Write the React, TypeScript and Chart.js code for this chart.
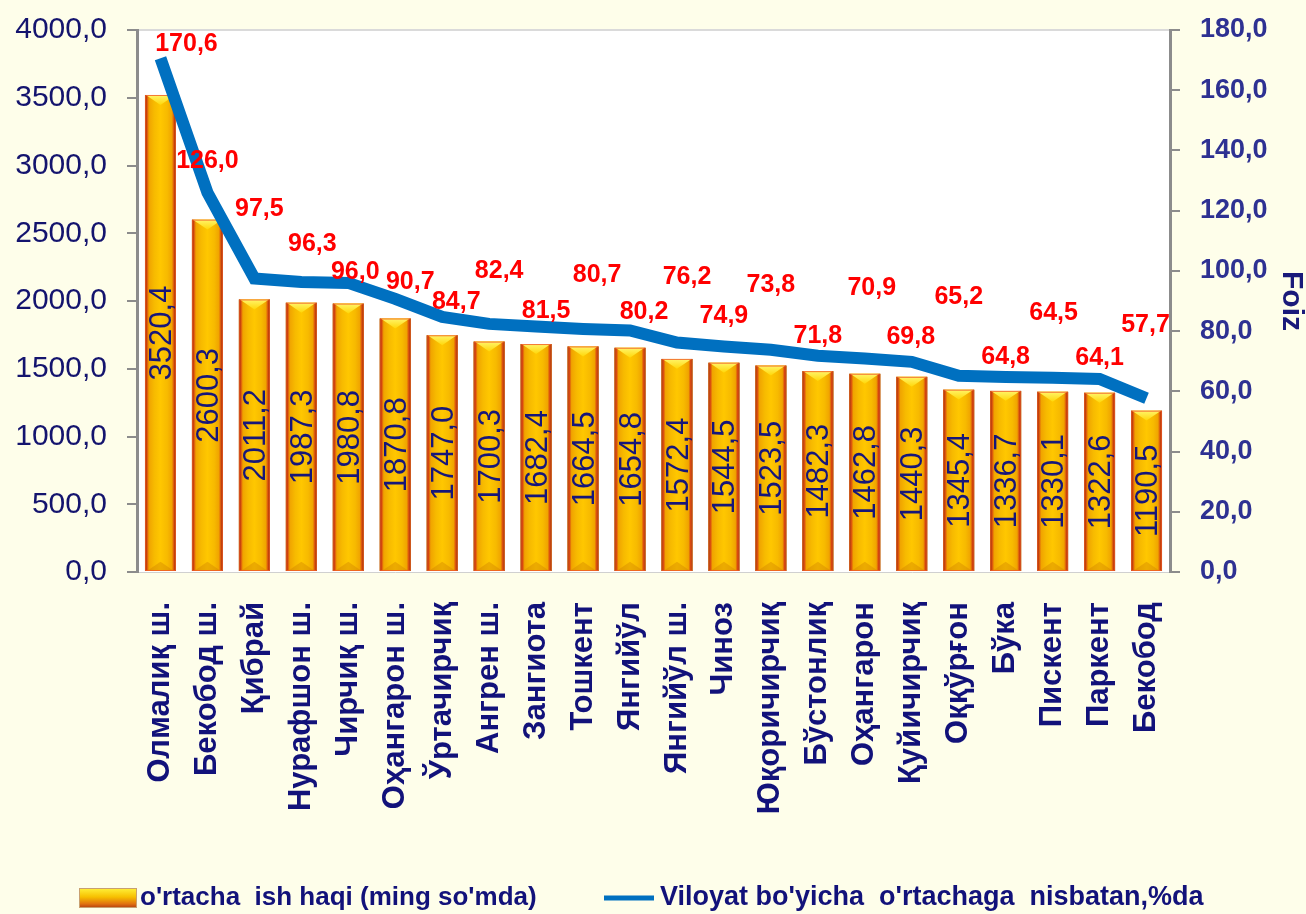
import React, { useEffect, useRef } from "react";
import { Chart, registerables } from "chart.js";

Chart.register(...registerables);

const categories = [
  "Олмалиқ ш.", "Бекобод ш.", "Қибрай", "Нурафшон ш.", "Чирчиқ ш.", "Оҳангарон ш.",
  "Ўртачирчиқ", "Ангрен ш.", "Зангиота", "Тошкент", "Янгийўл", "Янгийўл ш.", "Чиноз",
  "Юқоричирчиқ", "Бўстонлиқ", "Оҳангарон", "Қуйичирчиқ", "Оққўрғон", "Бўка", "Пискент",
  "Паркент", "Бекобод",
];
const wages = [
  3520.4, 2600.3, 2011.2, 1987.3, 1980.8, 1870.8, 1747.0, 1700.3, 1682.4, 1664.5, 1654.8,
  1572.4, 1544.5, 1523.5, 1482.3, 1462.8, 1440.3, 1345.4, 1336.7, 1330.1, 1322.6, 1190.5,
];
const percents = [
  170.6, 126.0, 97.5, 96.3, 96.0, 90.7, 84.7, 82.4, 81.5, 80.7, 80.2, 76.2, 74.9, 73.8,
  71.8, 70.9, 69.8, 65.2, 64.8, 64.5, 64.1, 57.7,
];
const barSeriesName = "o'rtacha  ish haqi (ming so'mda)";
const lineSeriesName = "Viloyat bo'yicha  o'rtachaga  nisbatan,%da";
const rightAxisTitle = "Foiz";

// label nudges (layout only) relative to each line point
const LINE_LABEL_DX = [26, 0, 5, 11, 7, 15, 14, 10, 10, 14, 14, 10, 0, 0, 0, 7, -1, 0, 0, 1, 0, -1];
const LINE_LABEL_DY = [-14, -31, -69, -38, -11, -17, -15, -53, -15, -54, -18, -65, -30, -65, -20, -70, -25, -79, -20, -65, -21, -73];

const BG = "#FEFEEA";
const FONT = "'Liberation Sans', Arial, sans-serif";
const fmt = (v: number) => v.toFixed(1).replace(".", ",");

const bgPlugin = {
  id: "bgPlugin",
  beforeDraw(chart: any) {
    const { ctx, chartArea } = chart;
    const { left, top, right, bottom } = chartArea;
    ctx.save();
    ctx.fillStyle = BG;
    ctx.fillRect(0, 0, chart.width, chart.height);
    ctx.fillStyle = "#FFFFFF";
    ctx.fillRect(left, top, right - left, bottom - top);
    ctx.strokeStyle = "#DADADA";
    ctx.lineWidth = 2;
    ctx.beginPath();
    ctx.moveTo(left, top);
    ctx.lineTo(right, top);
    ctx.stroke();
    ctx.restore();
  },
};

const bar3dPlugin = {
  id: "bar3dPlugin",
  afterDatasetDraw(chart: any, args: any) {
    if (args.index !== 0) return;
    const ctx = chart.ctx;
    ctx.save();
    args.meta.data.forEach((el: any) => {
      const { x, y, base, width } = el.getProps(["x", "y", "base", "width"], true);
      const l = x - width / 2;
      const r = x + width / 2;
      const g = ctx.createLinearGradient(l, 0, r, 0);
      g.addColorStop(0, "#6E2E00");
      g.addColorStop(0.06, "#D8460F");
      g.addColorStop(0.13, "#F0A400");
      g.addColorStop(0.3, "#F7BA00");
      g.addColorStop(0.5, "#FFC700");
      g.addColorStop(0.72, "#F7BA00");
      g.addColorStop(0.87, "#F0A400");
      g.addColorStop(0.94, "#D8460F");
      g.addColorStop(1, "#6E2E00");
      ctx.fillStyle = g;
      ctx.fillRect(l, y, width, base - y);
      const tg = ctx.createLinearGradient(0, y, 0, y + width * 0.35);
      tg.addColorStop(0, "#FFF56A");
      tg.addColorStop(1, "#FFD400");
      ctx.fillStyle = tg;
      ctx.beginPath();
      ctx.moveTo(l + 1, y);
      ctx.lineTo(r - 1, y);
      ctx.lineTo(x, y + width * 0.32);
      ctx.closePath();
      ctx.fill();
      ctx.fillStyle = "rgba(200,120,0,0.35)";
      ctx.beginPath();
      ctx.moveTo(l + 2, base);
      ctx.lineTo(r - 2, base);
      ctx.lineTo(x, base - width * 0.3);
      ctx.closePath();
      ctx.fill();
      ctx.strokeStyle = "rgba(240,90,40,0.8)";
      ctx.lineWidth = 1;
      ctx.strokeRect(l + 0.5, y + 0.5, width - 1, base - y - 1);
    });
    ctx.restore();
  },
};

const labelsPlugin = {
  id: "labelsPlugin",
  afterDatasetsDraw(chart: any) {
    const ctx = chart.ctx;
    ctx.save();
    const barMeta = chart.getDatasetMeta(0);
    ctx.font = `normal 31px ${FONT}`;
    ctx.fillStyle = "#16167A";
    ctx.textAlign = "center";
    ctx.textBaseline = "middle";
    barMeta.data.forEach((el: any, i: number) => {
      const { x, y, base } = el.getProps(["x", "y", "base"], true);
      ctx.save();
      ctx.translate(x + 2, (y + base) / 2);
      ctx.rotate(-Math.PI / 2);
      ctx.fillText(fmt(wages[i]), 0, 0);
      ctx.restore();
    });
    const lineMeta = chart.getDatasetMeta(1);
    ctx.font = `bold 25px ${FONT}`;
    ctx.fillStyle = "#FF0000";
    lineMeta.data.forEach((el: any, i: number) => {
      const { x, y } = el.getProps(["x", "y"], true);
      ctx.fillText(fmt(percents[i]), x + LINE_LABEL_DX[i], y + LINE_LABEL_DY[i]);
    });
    ctx.restore();
  },
};

const legendPlugin = {
  id: "customLegend",
  afterDraw(chart: any) {
    const ctx = chart.ctx;
    const cy = chart.height - 16;
    ctx.save();
    const bx = 79, bw = 58, bh = 20;
    const g = ctx.createLinearGradient(0, cy - bh / 2, 0, cy + bh / 2);
    g.addColorStop(0, "#FFF23C");
    g.addColorStop(0.45, "#F7C000");
    g.addColorStop(0.8, "#E07010");
    g.addColorStop(1, "#B03A10");
    ctx.fillStyle = g;
    ctx.fillRect(bx, cy - bh / 2, bw, bh);
    ctx.strokeStyle = "#C8A070";
    ctx.lineWidth = 1;
    ctx.strokeRect(bx + 0.5, cy - bh / 2 + 0.5, bw - 1, bh - 1);
    ctx.font = `bold 26px ${FONT}`;
    ctx.fillStyle = "#12127A";
    ctx.textAlign = "left";
    ctx.textBaseline = "middle";
    ctx.fillText(barSeriesName, bx + bw + 3, cy);
    ctx.strokeStyle = "#0070C0";
    ctx.lineWidth = 5;
    ctx.beginPath();
    ctx.moveTo(604, cy);
    ctx.lineTo(654, cy);
    ctx.stroke();
    ctx.font = `bold 27px ${FONT}`;
    ctx.fillText(lineSeriesName, 660, cy);
    ctx.restore();
  },
};

export default function App() {
  const ref = useRef<HTMLCanvasElement | null>(null);
  useEffect(() => {
    document.body.style.margin = "0";
    document.body.style.background = BG;
    if (!ref.current) return;
    const chart = new Chart(ref.current, {
      type: "bar",
      data: {
        labels: categories,
        datasets: [
          {
            type: "bar",
            label: barSeriesName,
            data: wages,
            yAxisID: "y",
            backgroundColor: "#F7BA00",
            borderWidth: 0,
            barPercentage: 0.66,
            categoryPercentage: 1,
            order: 1,
          },
          {
            type: "line",
            label: lineSeriesName,
            data: percents,
            yAxisID: "y1",
            borderColor: "#0070C0",
            backgroundColor: "#0070C0",
            borderWidth: 12,
            pointRadius: 0,
            tension: 0,
            order: 0,
          } as any,
        ],
      },
      options: {
        responsive: true,
        maintainAspectRatio: false,
        animation: false,
        layout: { padding: { top: 30, left: 0, right: 0, bottom: 0 } },
        plugins: {
          legend: { display: false },
          tooltip: { enabled: false },
        },
        scales: {
          x: {
            grid: { display: false, drawTicks: false },
            border: { display: true, color: "#D0D0D0", width: 1 },
            ticks: {
              autoSkip: false,
              maxRotation: 90,
              minRotation: 90,
              padding: 30,
              color: "#12127A",
              font: { family: FONT, size: 31, weight: "bold" },
            },
            afterFit(scale: any) {
              scale.height = 342;
            },
          },
          y: {
            position: "left",
            min: 0,
            max: 4000,
            grid: { drawOnChartArea: false, drawTicks: true, tickLength: 10, color: "#8C8C8C", lineWidth: 2 },
            border: { display: true, color: "#8C8C8C", width: 3 },
            ticks: {
              stepSize: 500,
              padding: 20,
              color: "#14146E",
              font: { family: FONT, size: 30, lineHeight: 0.5 },
              callback: (v: any) => fmt(Number(v)),
            },
            afterFit(scale: any) {
              scale.width = 137;
            },
          },
          y1: {
            position: "right",
            min: 0,
            max: 180,
            grid: { drawOnChartArea: false, drawTicks: true, tickLength: 10, color: "#8C8C8C", lineWidth: 2 },
            border: { display: true, color: "#8C8C8C", width: 3 },
            ticks: {
              stepSize: 20,
              padding: 20,
              color: "#2E3192",
              font: { family: FONT, size: 27, weight: "bold", lineHeight: 0.5 },
              callback: (v: any) => fmt(Number(v)),
            },
            title: {
              display: true,
              text: rightAxisTitle,
              color: "#1A1A7A",
              font: { family: FONT, size: 30, weight: "bold", lineHeight: 1 },
              padding: { top: 0, bottom: 0 },
            },
            afterFit(scale: any) {
              scale.width = 136;
            },
          },
        },
      } as any,
      plugins: [bgPlugin, bar3dPlugin, labelsPlugin, legendPlugin],
    });
    return () => chart.destroy();
  }, []);
  return (
    <div style={{ width: 1306, height: 914, position: "relative" }}>
      <canvas ref={ref} />
    </div>
  );
}
